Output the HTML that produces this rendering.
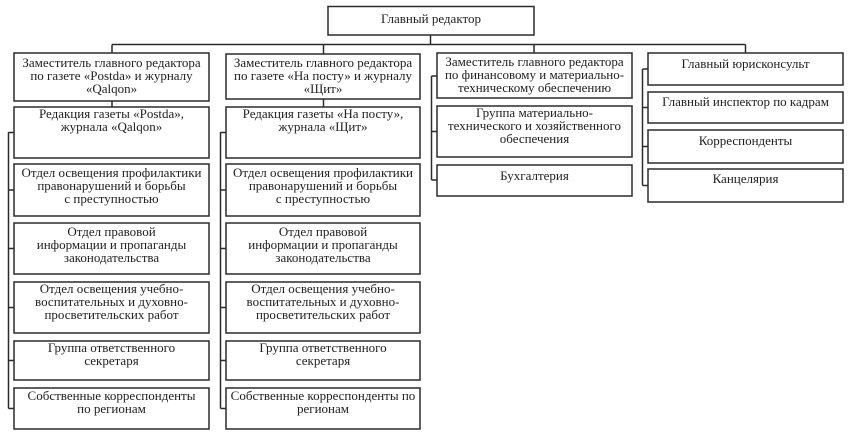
<!DOCTYPE html>
<html>
<head>
<meta charset="utf-8">
<style>
html,body{margin:0;padding:0;background:#fff;}
body{width:849px;height:435px;position:relative;overflow:hidden;font-family:"Liberation Serif","Noto Serif CJK SC",serif;color:#1e1e1e;}
svg{position:absolute;left:0;top:0;}
.t{position:absolute;text-align:center;font-size:13px;line-height:13px;white-space:nowrap;}
</style>
</head>
<body>
<svg width="849" height="435" viewBox="0 0 849 435">
<g fill="none" stroke="#2b2b2b" stroke-width="1.5">
<!-- top -->
<rect x="328" y="6.5" width="206" height="28.5"/>
<!-- col1 -->
<rect x="14" y="53" width="195" height="48"/>
<rect x="14" y="107" width="195" height="51"/>
<rect x="14" y="164" width="195" height="52"/>
<rect x="14" y="223" width="195" height="51"/>
<rect x="14" y="282" width="195" height="51"/>
<rect x="14" y="341" width="195" height="39"/>
<rect x="14" y="388" width="195" height="41"/>
<!-- col2 -->
<rect x="226" y="54" width="194" height="45"/>
<rect x="226" y="107" width="194" height="51"/>
<rect x="226" y="164" width="194" height="52"/>
<rect x="226" y="223" width="194" height="51"/>
<rect x="226" y="282" width="194" height="51"/>
<rect x="226" y="341" width="194" height="39"/>
<rect x="226" y="388" width="194" height="41"/>
<!-- col3 -->
<rect x="437" y="53" width="195" height="45"/>
<rect x="437" y="106" width="195" height="51"/>
<rect x="437" y="165" width="195" height="31"/>
<!-- col4 -->
<rect x="648" y="53" width="195" height="32"/>
<rect x="648" y="92" width="195" height="31"/>
<rect x="648" y="130" width="195" height="33"/>
<rect x="648" y="169" width="195" height="33"/>
<!-- connectors -->
<path d="M430.5 35V44.5M112 44.5H745.5M112 44.5V53M323.5 44.5V54M534 44.5V53M745.5 44.5V53M112 101V107M323.5 99V107"/>
<path d="M8.5 132V408.5M8.5 132.5H14M8.5 190H14M8.5 248.5H14M8.5 307.5H14M8.5 360.5H14M8.5 408.5H14"/>
<path d="M220.5 132V408.5M220.5 132.5H226M220.5 190H226M220.5 248.5H226M220.5 307.5H226M220.5 360.5H226M220.5 408.5H226"/>
<path d="M431.5 76V180M431.5 76H437M431.5 131.5H437M431.5 180H437"/>
<path d="M642.5 69V185.5M642.5 69H648M642.5 107.5H648M642.5 146.5H648M642.5 185.5H648"/>
</g>
</svg>

<div class="t" style="left:328px;top:12px;width:206px;">Главный редактор</div>

<div class="t" style="left:14px;top:55.5px;width:195px;">Заместитель главного редактора<br>по газете «Postda» и журналу<br>«Qalqon»</div>
<div class="t" style="left:14px;top:106.5px;width:195px;">Редакция газеты «Postda»,<br>журнала «Qalqon»</div>
<div class="t" style="left:14px;top:165.5px;width:195px;">Отдел освещения профилактики<br>правонарушений и борьбы<br>с преступностью</div>
<div class="t" style="left:14px;top:224.5px;width:195px;">Отдел правовой<br>информации и пропаганды<br>законодательства</div>
<div class="t" style="left:14px;top:281.5px;width:195px;">Отдел освещения учебно-<br>воспитательных и духовно-<br>просветительских работ</div>
<div class="t" style="left:14px;top:341px;width:195px;">Группа ответственного<br>секретаря</div>
<div class="t" style="left:14px;top:388.5px;width:195px;">Собственные корреспонденты<br>по регионам</div>

<div class="t" style="left:226px;top:55.5px;width:194px;">Заместитель главного редактора<br>по газете «На посту» и журналу<br>«Щит»</div>
<div class="t" style="left:226px;top:106.5px;width:194px;">Редакция газеты «На посту»,<br>журнала «Щит»</div>
<div class="t" style="left:226px;top:165.5px;width:194px;">Отдел освещения профилактики<br>правонарушений и борьбы<br>с преступностью</div>
<div class="t" style="left:226px;top:224.5px;width:194px;">Отдел правовой<br>информации и пропаганды<br>законодательства</div>
<div class="t" style="left:226px;top:281.5px;width:194px;">Отдел освещения учебно-<br>воспитательных и духовно-<br>просветительских работ</div>
<div class="t" style="left:226px;top:341px;width:194px;">Группа ответственного<br>секретаря</div>
<div class="t" style="left:226px;top:388.5px;width:194px;">Собственные корреспонденты по<br>регионам</div>

<div class="t" style="left:437px;top:55px;width:195px;">Заместитель главного редактора<br>по финансовому и материально-<br>техническому обеспечению</div>
<div class="t" style="left:437px;top:106px;width:195px;">Группа материально-<br>технического и хозяйственного<br>обеспечения</div>
<div class="t" style="left:437px;top:168.5px;width:195px;">Бухгалтерия</div>

<div class="t" style="left:648px;top:56.5px;width:195px;">Главный юрисконсульт</div>
<div class="t" style="left:648px;top:95px;width:195px;">Главный инспектор по кадрам</div>
<div class="t" style="left:648px;top:133.5px;width:195px;">Корреспонденты</div>
<div class="t" style="left:648px;top:172px;width:195px;">Канцелярия</div>
</body>
</html>
